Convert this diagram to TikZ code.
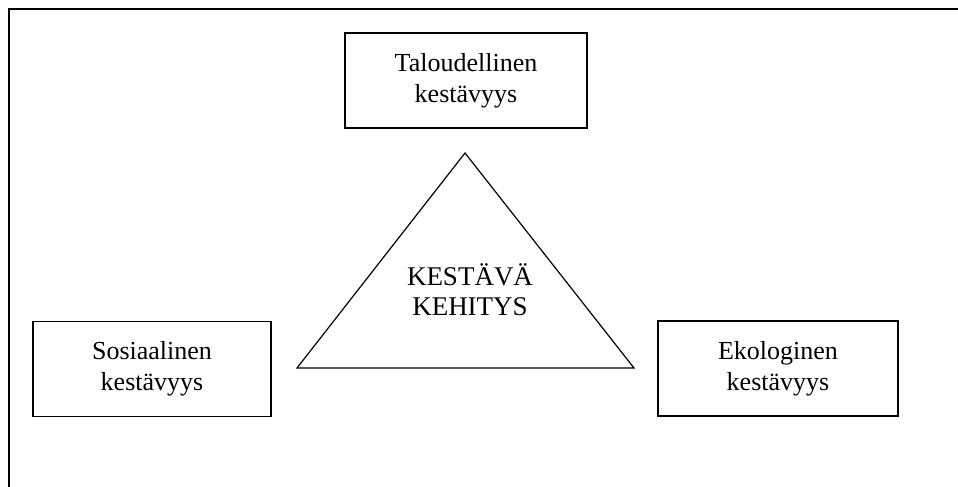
\documentclass[tikz,border=0pt]{standalone}
\usepackage{fontspec}
\setmainfont{Liberation Serif}
\tikzset{
  laatikko/.style={draw, line width=1.8pt, minimum width=#1, minimum height=95pt, inner sep=0pt, align=center, font=\fontsize{26}{31}\selectfont},
  laatikko/.default=240pt
}
\begin{document}
\begin{tikzpicture}[x=1pt, y=-1pt]
\useasboundingbox (0,0) rectangle (958,487);
\draw[line width=2pt] (9,487) -- (9,9) -- (958,9);

\node[laatikko=242pt] (talous) at (466,80.5){Taloudellinen\\kestävyys};
\node[laatikko=238pt] (sosiaali) at (152,369){Sosiaalinen\\kestävyys};
\node[laatikko=240pt] (ekologia) at (778,368.5){Ekologinen\\kestävyys};

\coordinate (huippu) at (465,153);
\coordinate (vasen) at (297,368);
\coordinate (oikea) at (634,368);
\draw[line width=1.2pt, line join=miter] (huippu) -- (vasen) -- (oikea) -- cycle;
\node[align=center, inner sep=0pt, font=\fontsize{27}{30}\selectfont] (kehitys) at (470,290){KESTÄVÄ\\KEHITYS};

\end{tikzpicture}
\end{document}
